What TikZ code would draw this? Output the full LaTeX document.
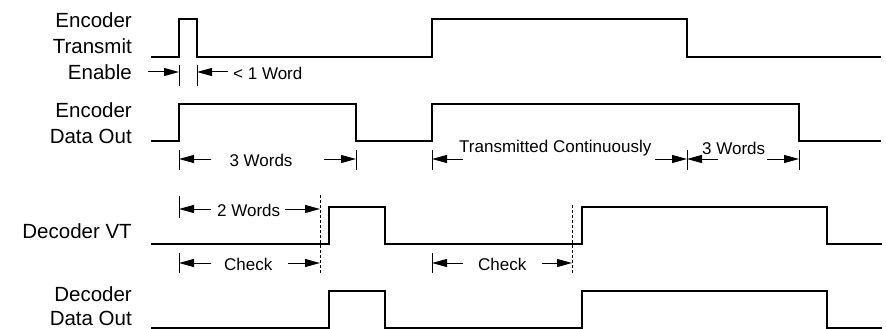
\documentclass[tikz,border=0pt]{standalone}
\usepackage{fontspec}
\setmainfont{Liberation Sans}
\usetikzlibrary{arrows.meta}
\begin{document}
\begin{tikzpicture}[x=1pt,y=-1pt,
  sig/.style={line width=1.6pt, line join=miter},
  tickln/.style={line width=0.7pt},
  dashln/.style={line width=0.7pt, dash pattern=on 3pt off 2pt},
  dim/.style={line width=1pt, -{Triangle[length=15pt,width=8pt]}},
  lbl/.style={font=\fontsize{20.5}{24}\selectfont, anchor=east, inner sep=0pt},
  small/.style={font=\fontsize{17}{20}\selectfont, inner sep=0pt}]
\useasboundingbox (0,0) rectangle (886,329);
% signals
\draw[sig] (151,57) -| (179,19) -| (197,57) -| (432,19) -| (687,57) -- (881,57);
\draw[sig] (151,141) -| (179,104) -| (356,141) -| (432,104) -| (799,141) -- (881,141);
\draw[sig] (151,244) -| (329,207) -| (385,244) -| (582,207) -| (827,244) -- (882,244);
\draw[sig] (151,328) -| (329,291) -| (385,328) -| (582,291) -| (827,328) -- (882,328);
% labels
\node[lbl] (l1) at (132,20) {Encoder};
\node[lbl] (l2) at (132,46) {Transmit};
\node[lbl] (l3) at (132,72) {Enable};
\node[lbl] (l4) at (132,110) {Encoder};
\node[lbl] (l5) at (132,136) {Data Out};
\node[lbl] (l6) at (132,231) {Decoder VT};
\node[lbl] (l7) at (132,294) {Decoder};
\node[lbl] (l8) at (132,318.5) {Data Out};
% dashed markers
\draw[dashln] (320,195) -- (320,273);
\draw[dashln] (572,205) -- (572,273);
% row 1 dimension
\coordinate (a1) at (179,72);
\coordinate (a2) at (197,72);
\draw[tickln] (179,65) -- (179,86);
\draw[tickln] (197,65) -- (197,86);
\draw[dim] (148,72) -- (a1);
\draw[dim] (228,72) -- (a2);
\node[small, anchor=west] (t1) at (233,73) {< 1 Word};
% row 2 dimensions
\foreach \x in {179,356,432,687,799} \draw[tickln] (\x,150) -- (\x,170);
\coordinate (b1) at (179,159);
\coordinate (b2) at (356,159);
\coordinate (b3) at (432,159);
\coordinate (b4) at (687,159);
\coordinate (b5) at (799,159);
\draw[dim] (211,159) -- (b1);
\draw[dim] (324,159) -- (b2);
\node[small] (t2) at (261,160) {3 Words};
\draw[dim] (463,159) -- (b3);
\draw[dim] (655,159) -- (b4);
\node[small, anchor=west] (t3) at (459,148) {Transmitted Continuously};
\draw[dim] (718,159) -- (b4);
\draw[dim] (767,159) -- (b5);
\node[small, anchor=west] (t4) at (702,148) {3 Words};
% row 3 dimensions
\draw[tickln] (179,196) -- (179,218);
\coordinate (c1) at (179,209);
\coordinate (c2) at (320,209);
\draw[dim] (211,209) -- (c1);
\draw[dim] (285,209) -- (c2);
\node[small, anchor=west] (t5) at (217,210) {2 Words};
\draw[tickln] (179,253) -- (179,273);
\draw[tickln] (432,253) -- (432,273);
\coordinate (d1) at (179,263);
\coordinate (d2) at (320,263);
\coordinate (d3) at (432,263);
\coordinate (d4) at (572,263);
\draw[dim] (211,263) -- (d1);
\draw[dim] (288,263) -- (d2);
\node[small, anchor=west] (t6) at (224,264) {Check};
\draw[dim] (463,263) -- (d3);
\draw[dim] (542,263) -- (d4);
\node[small, anchor=west] (t7) at (478,264) {Check};
\end{tikzpicture}
\end{document}
